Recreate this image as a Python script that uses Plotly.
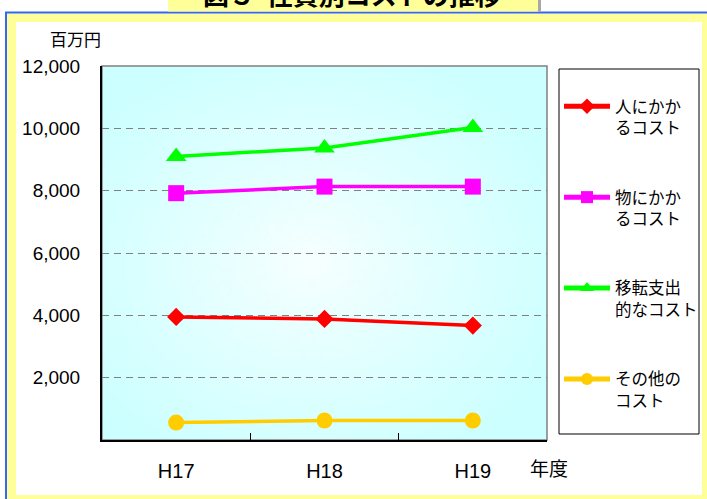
import base64
import struct
import zlib

import numpy as np
import plotly.graph_objects as go

# ---- data -------------------------------------------------------------
years = ["H17", "H18", "H19"]
series_names = [
    "人にかか<br>るコスト",
    "物にかか<br>るコスト",
    "移転支出<br>的なコスト",
    "その他の<br>コスト",
]
person_cost = [3950, 3885, 3670]
goods_cost = [7920, 8130, 8130]
transfer_cost = [9100, 9370, 10030]
other_cost = [560, 625, 625]
y_tick_values = [2000, 4000, 6000, 8000, 10000, 12000]
y_tick_text = ["2,000", "4,000", "6,000", "8,000", "10,000", "12,000"]

# ---- geometry helpers (pixel -> paper coordinates) --------------------
W, H = 707, 499
PL, PR, PT, PB = 102, 547, 66, 440


def px(x):
    return (x - PL) / (PR - PL)


def py(y):
    return (PB - y) / (PB - PT)


# ---- radial gradient image for the plot background -------------------
def gradient_png(w=160, h=140):
    xs = (np.arange(w) + 0.5) / w
    ys = (np.arange(h) + 0.5) / h
    gx, gy = np.meshgrid(xs, ys)
    t = np.sqrt(((gx - 0.47) / 0.62) ** 2 + ((gy - 0.52) / 0.62) ** 2)
    t = np.clip(t, 0, 1) ** 0.9
    centre = np.array([248, 255, 255], dtype=float)
    edge = np.array([204, 255, 255], dtype=float)
    img = centre[None, None, :] * (1 - t[..., None]) + edge[None, None, :] * t[..., None]
    img = img.astype(np.uint8)
    raw = b"".join(b"\x00" + img[r].tobytes() for r in range(h))

    def chunk(tag, data):
        c = struct.pack(">I", len(data)) + tag + data
        return c + struct.pack(">I", zlib.crc32(tag + data) & 0xFFFFFFFF)

    png = b"\x89PNG\r\n\x1a\n"
    png += chunk(b"IHDR", struct.pack(">IIBBBBB", w, h, 8, 2, 0, 0, 0))
    png += chunk(b"IDAT", zlib.compress(raw, 9))
    png += chunk(b"IEND", b"")
    return "data:image/png;base64," + base64.b64encode(png).decode()


CJK = "Noto Sans CJK JP, sans-serif"
LATIN = "Liberation Sans, Arial, sans-serif"

fig = go.Figure()

series = [
    (series_names[0], person_cost, "#FF0000", "diamond", 14),
    (series_names[1], goods_cost, "#FF00FF", "square", 16),
    (series_names[2], transfer_cost, "#00FF00", "triangle-up", 18),
    (series_names[3], other_cost, "#FFCC00", "circle", 16),
]
for i, (name, vals, color, symbol, size) in enumerate(series):
    fig.add_trace(
        go.Scatter(
            x=years,
            y=vals,
            name=name,
            mode="lines+markers",
            line=dict(color=color, width=3.5),
            marker=dict(color=color, symbol=symbol, size=size, line=dict(width=0)),
            legendgroup=f"g{i}",
        )
    )

shapes = []
yellow = "#FFFF99"
# yellow frame strips
for x0, y0, x1, y1 in [
    (7, 13, 720, 22),
    (7, 13, 16, 520),
    (702, 13, 720, 520),
    (7, 495, 720, 520),
]:
    shapes.append(dict(type="rect", xref="paper", yref="paper",
                       x0=px(x0), x1=px(x1), y0=py(y0), y1=py(y1),
                       fillcolor=yellow, line=dict(width=0), layer="below"))
# blue outer border
shapes.append(dict(type="rect", xref="paper", yref="paper",
                   x0=px(6), x1=px(760), y0=py(12.5), y1=py(560),
                   fillcolor="rgba(0,0,0,0)", line=dict(color="#3366FF", width=2),
                   layer="below"))
# title box
shapes.append(dict(type="rect", xref="paper", yref="paper",
                   x0=px(538), x1=px(541), y0=py(-10), y1=py(11.5),
                   fillcolor="#A8A8A8", line=dict(width=0), layer="below"))
shapes.append(dict(type="rect", xref="paper", yref="paper",
                   x0=px(168), x1=px(538), y0=py(-10), y1=py(11.5),
                   fillcolor=yellow, line=dict(width=0), layer="below"))
# plot area border
shapes.append(dict(type="rect", xref="paper", yref="paper",
                   x0=0, x1=1, y0=0, y1=1,
                   fillcolor="rgba(0,0,0,0)", line=dict(color="#808080", width=1.5),
                   layer="below"))
# legend box
shapes.append(dict(type="rect", xref="paper", yref="paper",
                   x0=px(559), x1=px(699), y0=py(434), y1=py(69),
                   fillcolor="white", line=dict(color="black", width=1),
                   layer="below"))

annotations = [
    dict(text="図３  性質別コストの推移", xref="paper", yref="paper",
         x=px(352), y=py(-6), xanchor="center", yanchor="middle", showarrow=False,
         font=dict(family=CJK, size=26, color="black", weight="bold")),
    dict(text="百万円", xref="paper", yref="paper", x=px(75), y=py(39),
         xanchor="center", yanchor="middle", showarrow=False,
         font=dict(family=CJK, size=17, color="black")),
    dict(text="年度", xref="paper", yref="paper", x=px(549), y=py(467),
         xanchor="center", yanchor="middle", showarrow=False,
         font=dict(family=CJK, size=19, color="black")),
]

fig.update_layout(
    width=W,
    height=H,
    margin=dict(l=PL, r=W - PR, t=PT, b=H - PB, pad=0, autoexpand=False),
    paper_bgcolor="white",
    plot_bgcolor="rgba(0,0,0,0)",
    showlegend=True,
    legend=dict(
        x=px(559), y=py(89), xanchor="left", yanchor="top",
        bgcolor="rgba(0,0,0,0)", borderwidth=0,
        font=dict(family=CJK, size=16.5, color="black"),
        tracegroupgap=45, valign="top", itemsizing="constant", itemwidth=46,
    ),
    images=[dict(source=gradient_png(), xref="paper", yref="paper",
                 x=0, y=1, sizex=1, sizey=1, xanchor="left", yanchor="top",
                 sizing="stretch", layer="below")],
    shapes=shapes,
    annotations=annotations,
    xaxis=dict(
        type="category", categoryorder="array", categoryarray=years,
        range=[-0.5, 2.5], showgrid=False, zeroline=False,
        showline=True, linecolor="black", linewidth=2,
        ticks="inside", tickson="boundaries", ticklen=7, tickcolor="black", tickwidth=1,
        tickfont=dict(family=LATIN, size=20, color="black"),
        ticklabelstandoff=12,
    ),
    yaxis=dict(
        range=[0, 12000], tickvals=y_tick_values, ticktext=y_tick_text,
        showgrid=True, gridcolor="#808080", gridwidth=1, griddash="7px,5px",
        zeroline=False, showline=True, linecolor="black", linewidth=2,
        ticks="", tickfont=dict(family=LATIN, size=19, color="black"),
        ticklabelstandoff=16,
    ),
)

fig.write_html("out.html")
